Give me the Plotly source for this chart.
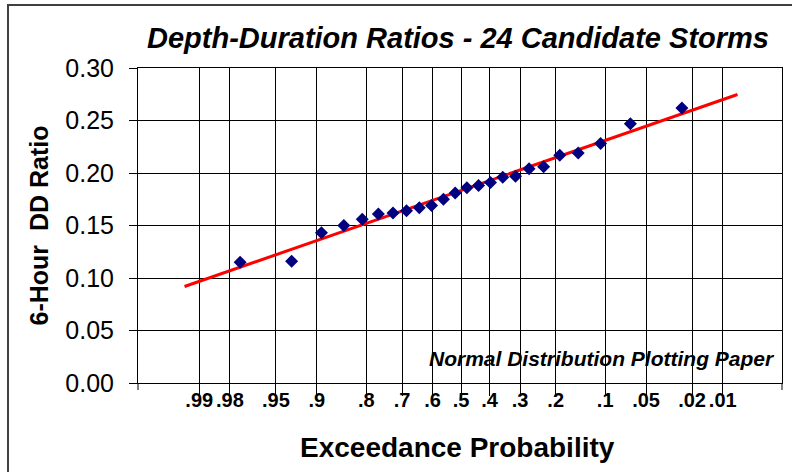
from statistics import NormalDist
import numpy as np
import plotly.graph_objects as go

# ---------------- data ----------------
# exceedance probabilities of the 24 ranked storms (plotting positions)
exceedance = [0.9752, 0.9339, 0.8926, 0.8512, 0.8099, 0.7686, 0.7273, 0.6860,
              0.6446, 0.6033, 0.5620, 0.5207, 0.4793, 0.4380, 0.3967, 0.3554,
              0.3140, 0.2727, 0.2314, 0.1901, 0.1488, 0.1074, 0.0661, 0.0248]
dd_ratio = [0.115, 0.116, 0.143, 0.150, 0.156, 0.161, 0.162, 0.164,
            0.167, 0.169, 0.175, 0.181, 0.186, 0.188, 0.191, 0.196,
            0.197, 0.204, 0.206, 0.217, 0.219, 0.228, 0.247, 0.262]
tick_probs = [0.99, 0.98, 0.95, 0.9, 0.8, 0.7, 0.6, 0.5, 0.4, 0.3, 0.2, 0.1, 0.05, 0.02, 0.01]
tick_labels = [".99", ".98", ".95", ".9", ".8", ".7", ".6", ".5", ".4", ".3", ".2", ".1", ".05", ".02", ".01"]
fit_range = [0.993, 0.007]  # exceedance range covered by the fitted line
y_ticks = [0.00, 0.05, 0.10, 0.15, 0.20, 0.25, 0.30]

nd = NormalDist()
def zq(p):
    return nd.inv_cdf(1.0 - p)

z_pts = [zq(p) for p in exceedance]
z_ticks = [zq(p) for p in tick_probs]
slope, intercept = np.polyfit(z_pts, dd_ratio, 1)
z_fit = [zq(p) for p in fit_range]
y_fit = [intercept + slope * z for z in z_fit]

FONT = "Arial, Liberation Sans, sans-serif"

fig = go.Figure()
fig.add_trace(go.Scatter(x=z_fit, y=y_fit, mode="lines",
                         line=dict(color="#FF0000", width=3),
                         showlegend=False, hoverinfo="skip"))
fig.add_trace(go.Scatter(x=z_pts, y=dd_ratio, mode="markers",
                         marker=dict(symbol="diamond", size=10, color="#000080",
                                     line=dict(width=0)),
                         showlegend=False, cliponaxis=False))

W, H = 792, 472
ml, mr, mt, mb = 138, 10, 68, 89
pw, ph = W - ml - mr, H - mt - mb

def px_x(px):
    return (px - ml) / pw

def px_y(py):
    return (H - mb - py) / ph

fig.update_layout(
    width=W, height=H,
    margin=dict(l=ml, r=mr, t=mt, b=mb, pad=0),
    paper_bgcolor="white", plot_bgcolor="white",
    font=dict(family=FONT, color="black"),
    xaxis=dict(range=[-2.871, 2.853], tickmode="array", tickvals=z_ticks,
               ticktext=tick_labels, showgrid=True, gridcolor="black", gridwidth=1,
               ticks="outside", ticklen=12, tickcolor="black", tickwidth=1,
               showline=True, linecolor="black", linewidth=1, mirror=True,
               zeroline=False, ticklabelstandoff=-13, tickangle=0,
               tickfont=dict(family=FONT, size=20, weight="bold", color="black")),
    yaxis=dict(range=[0, 0.30], tickmode="array", tickvals=y_ticks,
               tickformat=".2f", showgrid=True, gridcolor="black", gridwidth=1,
               ticks="outside", ticklen=8, tickcolor="black", tickwidth=1,
               showline=True, linecolor="black", linewidth=1, mirror=True,
               zeroline=False, ticklabelstandoff=10,
               tickfont=dict(family=FONT, size=25, color="black")),
    shapes=[
        dict(type="rect", xref="paper", yref="paper",
             x0=px_x(8), x1=px_x(794), y0=px_y(476), y1=px_y(5),
             line=dict(color="#404040", width=2), fillcolor="rgba(0,0,0,0)"),
        dict(type="line", xref="paper", yref="paper", x0=0, x1=0,
             y0=px_y(H - mb + 7), y1=0, line=dict(color="black", width=1)),
        dict(type="line", xref="paper", yref="paper", x0=1, x1=1,
             y0=px_y(H - mb + 7), y1=0, line=dict(color="black", width=1)),
    ],
    annotations=[
        dict(text="Depth-Duration Ratios - 24 Candidate Storms", xref="paper", yref="paper",
             x=px_x(457.5), y=px_y(38), xanchor="center", yanchor="middle", showarrow=False,
             font=dict(family=FONT, size=29, weight="bold", style="italic", color="black")),
        dict(text="6-Hour&nbsp;&nbsp;DD Ratio", xref="paper", yref="paper",
             x=px_x(38), y=0.5, xanchor="center", yanchor="middle", textangle=-90,
             showarrow=False,
             font=dict(family=FONT, size=25, weight="bold", color="black")),
        dict(text="Exceedance Probability", xref="paper", yref="paper",
             x=px_x(457), y=px_y(447), xanchor="center", yanchor="middle", showarrow=False,
             font=dict(family=FONT, size=28, weight="bold", color="black")),
        dict(text="Normal Distribution Plotting Paper", xref="paper", yref="paper",
             x=px_x(777), y=px_y(358), xanchor="right", yanchor="middle", showarrow=False,
             font=dict(family=FONT, size=21, weight="bold", style="italic", color="black")),
    ],
)

fig.write_html("out.html", config={"displayModeBar": False},
               post_script="document.body.style.margin='0';document.body.style.overflow='hidden';")
